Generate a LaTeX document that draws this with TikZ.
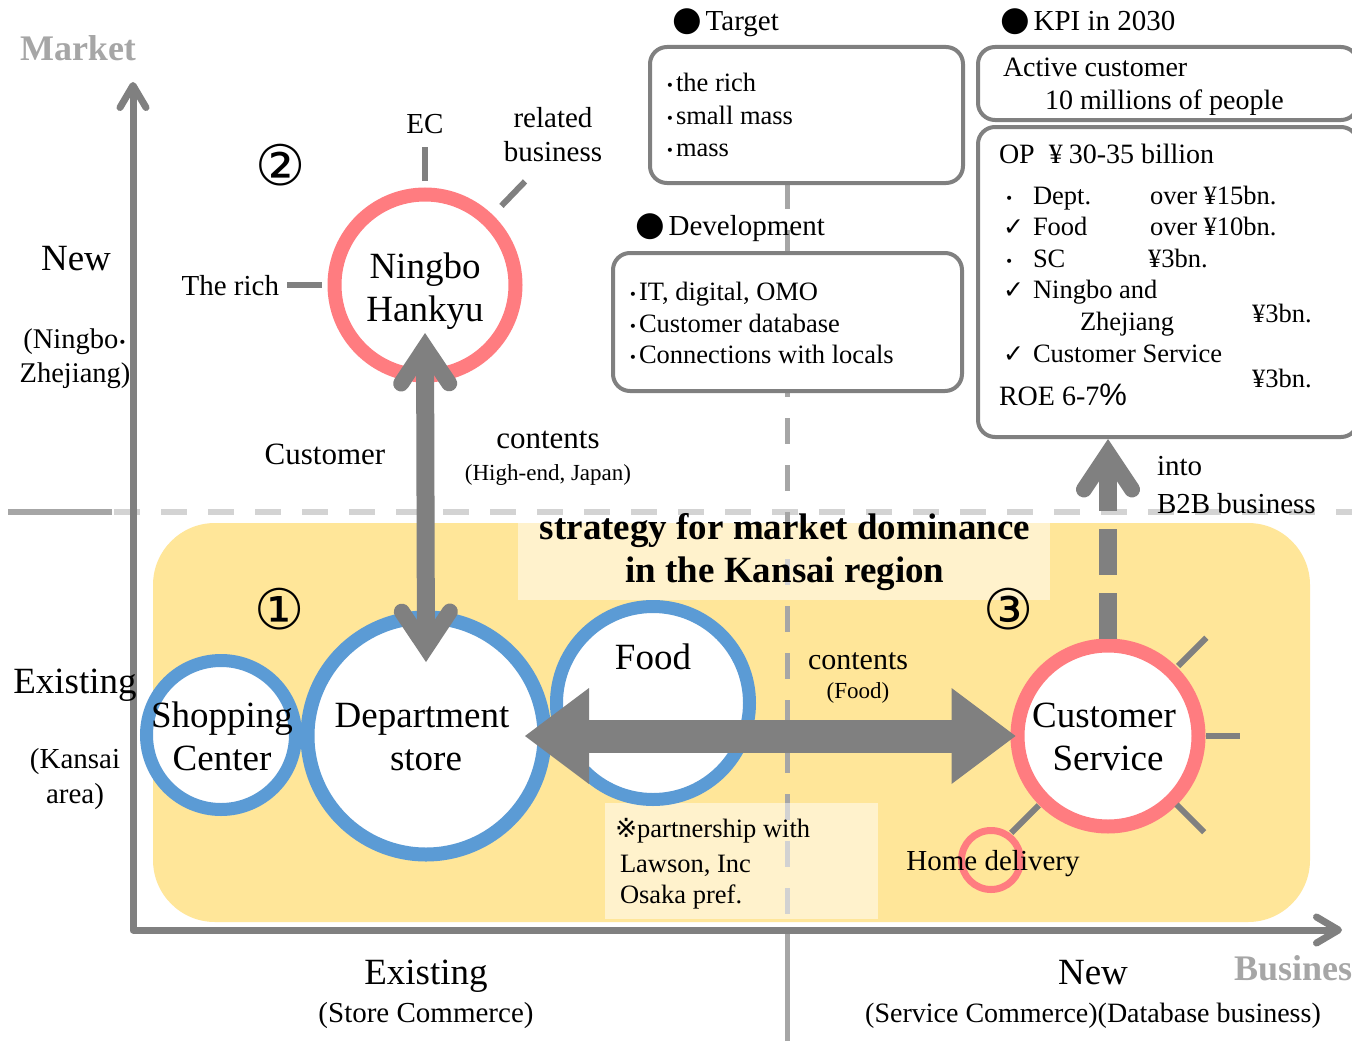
\documentclass[tikz,border=0pt]{standalone}
\usepackage{fontspec}
\setmainfont{Liberation Serif}
\newfontfamily\dv{DejaVu Sans}
\newfontfamily\lsans{Liberation Sans}
\usetikzlibrary{arrows.meta}
\definecolor{axisgray}{HTML}{808080}
\definecolor{guidegray}{HTML}{A6A6A6}
\definecolor{dashlight}{HTML}{D3D3D3}
\definecolor{zoneyellow}{HTML}{FFE699}
\definecolor{ringpink}{HTML}{FF7C80}
\definecolor{ringblue}{HTML}{5B9BD5}
% list markers
\newcommand{\smalldot}{\raisebox{1pt}{\dv\fontsize{14}{14}\selectfont •}}
\newcommand{\ldot}{\makebox[12pt][c]{\smalldot}}
\newcommand{\kdot}{\makebox[30pt][l]{\hspace{2pt}\smalldot}}
\newcommand{\kchk}{\makebox[30pt][l]{\dv\fontsize{25}{25}\selectfont ✓}}
\newcommand{\bigdot}{{\dv\fontsize{34}{34}\selectfont ●}\hspace{4pt}}
\tikzset{
  fatbarb/.tip={Straight Barb[length=36pt, width=48pt, line width=16pt, line cap=round, line join=miter]},
  widetri/.tip={Triangle[length=64pt, width=96pt, line width=0pt]},
  axtip/.tip={Straight Barb[length=22pt, width=26pt, round]},
}
\begin{document}
\begin{tikzpicture}[x=1pt, y=-1pt,
  txt/.style={inner sep=0pt, outer sep=0pt},
  big/.style={txt, font=\fontsize{37}{44}\selectfont},
  mid/.style={txt, font=\fontsize{29}{35}\selectfont},
  sml/.style={txt, font=\fontsize{26.5}{32}\selectfont},
  tny/.style={txt, font=\fontsize{23}{27}\selectfont},
  ttl/.style={txt, font=\bfseries\fontsize{37}{44}\selectfont},
  axlbl/.style={txt, font=\bfseries\fontsize{36}{40}\selectfont, text=guidegray},
  numcirc/.style={txt, font=\dv\fontsize{56}{60}\selectfont},
  ring/.style={circle, draw, fill=white, inner sep=0pt},
  infobox/.style={rectangle, draw=axisgray, line width=4pt, rounded corners=17pt, fill=white, inner sep=0pt},
  spoke/.style={draw=axisgray, line width=6pt},
  fatarrow/.style={draw=axisgray, line width=18pt},
]
\fill[white] (0,0) rectangle (1352,1041);
\useasboundingbox (0,0) rectangle (1352,1041);
\clip (0,0) rectangle (1352,1041);

% quadrant dividers and the Kansai zone
\draw[guidegray, line width=6pt] (8,512) -- (112,512);
\draw[dashlight, line width=6pt, dash pattern=on 26pt off 21pt] (114,512) -- (1352,512);
\fill[zoneyellow, rounded corners=62pt] (153,523) rectangle (1310,922);
\draw[guidegray, line width=5pt, dash pattern=on 26pt off 21pt] (787,183) -- (787,930);
\draw[guidegray, line width=5pt] (787,930) -- (787,1041);
\fill[white, fill opacity=0.5] (518,523) rectangle (1050,600);
\fill[white, fill opacity=0.5] (605,803) rectangle (878,919);

% axes
\draw[axisgray, line width=7pt, line join=round, axtip-axtip] (133,82) -- (133,930) -- (1342,930);

% information boxes
\node[infobox, minimum width=313pt, minimum height=136pt] (tgbox) at (806.5,115) {};
\node[infobox, minimum width=349pt, minimum height=138pt] (devbox) at (787.5,322) {};
\node[infobox, minimum width=380pt, minimum height=73pt] (kpibox) at (1168,83.5) {};
\node[infobox, minimum width=380pt, minimum height=310pt] (opbox) at (1168,282) {};

% business circles
\node[ring, draw=ringblue, line width=13pt, minimum size=149pt] (sc) at (221,735) {};
\node[ring, draw=ringblue, line width=14pt, minimum size=237pt] (ds) at (426,736) {};
\node[ring, draw=ringblue, line width=13pt, minimum size=193pt] (fd) at (653,703) {};
\node[ring, draw=ringpink, line width=14pt, minimum size=181pt] (nh) at (425,285) {};
\node[ring, draw=ringpink, line width=14pt, minimum size=181pt] (cs) at (1108,736) {};
\node[circle, draw=ringpink, line width=7pt, minimum size=59pt, inner sep=0pt] (hd) at (991,860) {};

% spokes
\draw[spoke] ([shift={(90:104pt)}]nh.center) -- ([shift={(90:138pt)}]nh.center);
\draw[spoke] ([shift={(46:110pt)}]nh.center) -- ([shift={(46:144pt)}]nh.center);
\draw[spoke] ([shift={(180:103pt)}]nh.center) -- ([shift={(180:138pt)}]nh.center);
\draw[spoke] ([shift={(45:99pt)}]cs.center) -- ([shift={(45:139pt)}]cs.center);
\draw[spoke] ([shift={(0:98pt)}]cs.center) -- ([shift={(0:132pt)}]cs.center);
\draw[spoke] ([shift={(-45:97pt)}]cs.center) -- ([shift={(-45:136pt)}]cs.center);
\draw[spoke] ([shift={(-135:98pt)}]cs.center) -- ([shift={(-135:137pt)}]cs.center);

% flows
\draw[fatarrow, fatbarb-fatbarb] ([yshift=-48pt]nh.center) -- ([yshift=74pt]ds.center);
\coordinate (csl) at ([xshift=5pt]cs.west);
\draw[axisgray, line width=33pt, widetri-widetri] ([xshift=99pt]ds.center) -- (ds.center -| csl);
\draw[fatarrow, dash pattern=on 46pt off 18pt, -fatbarb] (cs.north) -- (cs.north |- opbox.south);

% axis labels
\node[axlbl, anchor=base] (tMarket) at (78,61) {Market};
\node[axlbl, anchor=base west] (tBusiness) at (1234,980) {Business};
\node[big, anchor=base] (tNewL) at (76,270) {New};
\node[txt, font=\fontsize{28.5}{34}\selectfont, anchor=base] (tNb) at (75,348) {(Ningbo\smalldot};
\node[txt, font=\fontsize{28.5}{34}\selectfont, anchor=base] (tZj) at (75,382) {Zhejiang)};
\node[big, anchor=base] (tExL) at (75,693) {Existing};
\node[mid, anchor=base] (tKa) at (75,768) {(Kansai};
\node[mid, anchor=base] (tAr) at (75,803) {area)};
\node[big, anchor=base] (tExB) at (426,984) {Existing};
\node[mid, anchor=base] (tStore) at (426,1022) {(Store Commerce)};
\node[big, anchor=base] (tNewB) at (1093,984) {New};
\node[txt, font=\fontsize{28}{34}\selectfont, anchor=base] (tServ) at (1093,1022) {(Service Commerce)(Database business)};

% circled numbers
\node[numcirc] (n2) at (281,165) {②};
\node[numcirc] (n1) at (280,609) {①};
\node[numcirc] (n3) at (1009,609) {③};

% circle texts
\node[big, anchor=base] (tNing) at (425,278) {Ningbo};
\node[big, anchor=base] (tHank) at (425,321) {Hankyu};
\node[big, anchor=base] (tDept) at (422,727) {Department};
\node[big, anchor=base] (tStr) at (426,770) {store};
\node[big, anchor=base] (tShop) at (222,727) {Shopping};
\node[big, anchor=base] (tCen) at (222,770) {Center};
\node[big, anchor=base] (tFood) at (653,669) {Food};
\node[big, anchor=base] (tCust) at (1104,727) {Customer};
\node[big, anchor=base] (tSvc) at (1108,770) {Service};

% spoke labels
\node[mid, anchor=base] (tEC) at (425,133) {EC};
\node[mid, anchor=base] (tRel) at (553,127) {related};
\node[mid, anchor=base] (tBus) at (553,161) {business};
\node[mid, anchor=base east] (tRich) at (279,295) {The rich};
\node[mid, anchor=base] (tHome) at (993,870) {Home delivery};

% flow labels
\node[txt, font=\fontsize{31}{36}\selectfont, anchor=base] (tCustL) at (325,464) {Customer};
\node[txt, font=\fontsize{31}{36}\selectfont, anchor=base] (tCont1) at (548,448) {contents};
\node[tny, anchor=base] (tHigh) at (548,480) {(High-end, Japan)};
\node[txt, font=\fontsize{30}{36}\selectfont, anchor=base] (tCont2) at (858,669) {contents};
\node[tny, anchor=base] (tFoodS) at (858,698) {(Food)};
\node[mid, anchor=base west] (tInto) at (1157,475) {into};
\node[mid, anchor=base west] (tB2B) at (1157,513) {B2B business};

% zone title and note
\node[ttl, anchor=base] (tTitle1) at (785,539) {strategy for market dominance};
\node[ttl, anchor=base] (tTitle2) at (785,582) {in the Kansai region};
\node[sml, anchor=base west] (tNote1) at (615,837) {{\dv ※}partnership with};
\node[sml, anchor=base west] (tNote2) at (620,872) {Lawson, Inc};
\node[sml, anchor=base west] (tNote3) at (620,903) {Osaka pref.};

% target
\node[mid, anchor=base west] (tTarget) at (672,31) {\bigdot Target};
\node[sml, anchor=base west] (tg1) at (664,92) {\ldot the rich};
\node[sml, anchor=base west] (tg2) at (664,124) {\ldot small mass};
\node[sml, anchor=base west] (tg3) at (664,156) {\ldot mass};

% development
\node[mid, anchor=base west] (tDev) at (635,235) {\bigdot Development};
\node[sml, anchor=base west] (dv1) at (627,300) {\ldot IT, digital, OMO};
\node[sml, anchor=base west] (dv2) at (627,332) {\ldot Customer database};
\node[sml, anchor=base west] (dv3) at (627,363) {\ldot Connections with locals};

% KPI
\node[mid, anchor=base west] (tKpi) at (1000,31) {\bigdot KPI in 2030};
\node[txt, font=\fontsize{28}{34}\selectfont, anchor=base west] (kp1) at (1003,77) {Active customer};
\node[txt, font=\fontsize{28}{34}\selectfont, anchor=base west] (kp2) at (1045,110) {10 millions of people};
\node[txt, font=\fontsize{28}{34}\selectfont, anchor=base west] (op0) at (999,163) {OP\hspace{14pt}¥\hspace{6pt}30-35 billion};
\node[sml, anchor=base west] (op1) at (1003,204) {\kdot Dept.};
\node[sml, anchor=base west] (op1v) at (1150,204) {over ¥15bn.};
\node[sml, anchor=base west] (op2) at (1003,235) {\kchk Food};
\node[sml, anchor=base west] (op2v) at (1150,235) {over ¥10bn.};
\node[sml, anchor=base west] (op3) at (1003,267) {\kdot SC};
\node[sml, anchor=base west] (op3v) at (1148,267) {¥3bn.};
\node[sml, anchor=base west] (op4) at (1003,298) {\kchk Ningbo and};
\node[sml, anchor=base west] (op4b) at (1080,330) {Zhejiang};
\node[sml, anchor=base west] (op4v) at (1252,322) {¥3bn.};
\node[sml, anchor=base west] (op5) at (1003,362) {\kchk Customer Service};
\node[sml, anchor=base west] (op5v) at (1252,387) {¥3bn.};
\node[txt, font=\fontsize{28}{34}\selectfont, anchor=base west] (op6) at (999,405) {ROE 6-7{\lsans\fontsize{31}{31}\selectfont\%}};
\end{tikzpicture}
\end{document}
